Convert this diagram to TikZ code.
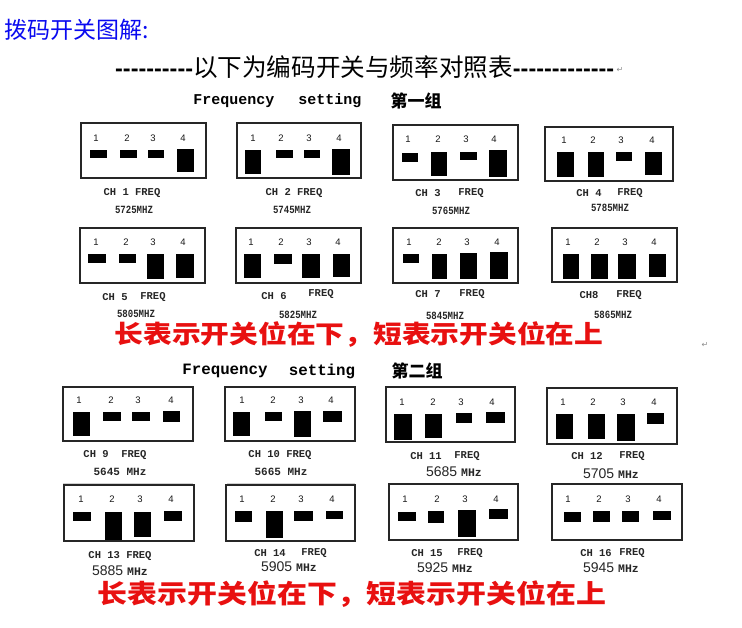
\documentclass[tikz,border=0pt]{standalone}
\usepackage{fontspec}
\setmainfont{Liberation Sans}
\newfontfamily\cjk{Noto Sans CJK SC}
\newfontfamily\cjkw{Noto Sans CJK SC}[FakeStretch=1.15]
\newfontfamily\mono{Liberation Mono}
\newfontfamily\monon{Liberation Mono}[FakeStretch=0.82]
\newfontfamily\symf{DejaVu Sans}
\newcommand\hy{-\kern0pt}
\definecolor{redtxt}{RGB}{232,16,16}
\definecolor{bluetxt}{RGB}{10,10,240}
\tikzset{
  boxline/.style={draw=black!85, line width=1.1pt},
  sw/.style={fill=black},
  num/.style={font=\fontsize{9.5}{10}\selectfont, text=black!90, inner sep=0pt},
  lab/.style={font=\mono\bfseries\fontsize{10.5}{11}\selectfont, text=black!85, inner sep=0pt},
  mhz/.style={font=\monon\bfseries\fontsize{11}{12}\selectfont, text=black!85, inner sep=0pt},
  mhzb/.style={font=\mono\bfseries\fontsize{11}{12}\selectfont, text=black!85, inner sep=0pt},
  mhzc/.style={font=\fontsize{14}{15}\selectfont, text=black!85, inner sep=0pt},
  freq/.style={font=\mono\bfseries\fontsize{15}{16}\selectfont, inner sep=0pt},
  grp/.style={font=\cjk\bfseries\fontsize{17}{18}\selectfont, inner sep=0pt},
  redline/.style={text=redtxt, inner sep=0pt, text height=20pt, text depth=1pt},
  pmark/.style={font=\symf\fontsize{8}{9}\selectfont, text=black!45, inner sep=0pt},
  faint/.style={draw=black!18, line width=0.8pt},
}
\newcommand\nums[5]{%
  \node[num] at (#2,#1) {1};
  \node[num] at (#3,#1) {2};
  \node[num] at (#4,#1) {3};
  \node[num] at (#5,#1) {4};}
\newcommand\mz[1]{{\mono\bfseries\fontsize{11.5}{12}\selectfont #1}}
\begin{document}
\begin{tikzpicture}[x=1pt,y=-1pt]
\useasboundingbox[fill=white] (0,0) rectangle (742,628);

% titles
\node[anchor=west, text=bluetxt, inner sep=0pt, font=\cjk\fontsize{23}{25}\selectfont] (t1) at (4,30) {拨码开关图解:};
\node[anchor=west, inner sep=0pt] (t2) at (115,67) {{\bfseries\fontsize{23.4}{24}\selectfont\hy\hy\hy\hy\hy\hy\hy\hy\hy\hy}{\cjk\fontsize{24.6}{26}\selectfont 以下为编码开关与频率对照表}{\bfseries\fontsize{23.4}{24}\selectfont\hy\hy\hy\hy\hy\hy\hy\hy\hy\hy\hy\hy\hy}};
\node[pmark, anchor=west] (t3) at ([xshift=2pt,yshift=-3pt]t2.east) {↵};

% group 1 heading
\node[freq] (f1a) at (234,101) {Frequency};
\node[freq] (f1b) at (330,101) {setting};
\node[grp] (f1c) at (416,101) {第一组};

% ---- CH1
\draw[boxline] (81,123) rectangle (206,178);
\nums{138}{96}{127}{153}{183}
\fill[sw] (90,150) rectangle (107,158);
\fill[sw] (120,150) rectangle (137,158);
\fill[sw] (148,150) rectangle (164,158);
\fill[sw] (177,149) rectangle (194,172);
\node[lab] (c1) at (132,193) {CH 1 FREQ};
\node[mhz] (m1) at (134,210) {5725MHZ};
% ---- CH2
\draw[boxline] (237,123) rectangle (361,178);
\nums{138}{253}{281}{309}{339}
\fill[sw] (245,150) rectangle (261,174);
\fill[sw] (276,150) rectangle (293,158);
\fill[sw] (304,150) rectangle (320,158);
\fill[sw] (332,149) rectangle (350,175);
\node[lab] (c2) at (294,193) {CH 2 FREQ};
\node[mhz] (m2) at (292,210) {5745MHZ};
% ---- CH3
\draw[boxline] (393,125) rectangle (518,180);
\nums{139}{408}{438}{466}{494}
\fill[sw] (402,153) rectangle (418,162);
\fill[sw] (431,152) rectangle (447,176);
\fill[sw] (460,152) rectangle (477,160);
\fill[sw] (489,150) rectangle (507,177);
\node[lab] (c3) at (428,193) {CH 3};
\node[lab] (q3) at (471,193) {FREQ};
\node[mhz] (m3) at (451,211) {5765MHZ};
% ---- CH4
\draw[boxline] (545,127) rectangle (673,181);
\nums{140}{564}{593}{621}{652}
\fill[sw] (557,152) rectangle (574,177);
\fill[sw] (588,152) rectangle (604,177);
\fill[sw] (616,152) rectangle (632,161);
\fill[sw] (645,152) rectangle (662,175);
\node[lab] (c4) at (589,193) {CH 4};
\node[lab] (q4) at (630,193) {FREQ};
\node[mhz] (m4) at (610,208) {5785MHZ};
% ---- CH5
\draw[boxline] (80,228) rectangle (205,283);
\nums{242}{96}{126}{153}{183}
\fill[sw] (88,254) rectangle (106,263);
\fill[sw] (119,254) rectangle (136,263);
\fill[sw] (147,254) rectangle (164,279);
\fill[sw] (176,254) rectangle (194,278);
\node[lab] (c5) at (115,297) {CH 5};
\node[lab] (q5) at (153,297) {FREQ};
\node[mhz] (m5) at (136,314) {5805MHZ};
% ---- CH6
\draw[boxline] (236,228) rectangle (361,283);
\nums{242}{251}{281}{309}{338}
\fill[sw] (244,254) rectangle (261,278);
\fill[sw] (274,254) rectangle (292,264);
\fill[sw] (302,254) rectangle (320,278);
\fill[sw] (333,254) rectangle (350,277);
\node[lab] (c6) at (274,296) {CH 6};
\node[lab] (q6) at (321,294) {FREQ};
\node[mhz] (m6) at (298,315) {5825MHZ};
% ---- CH7
\draw[boxline] (393,228) rectangle (518,283);
\nums{242}{409}{439}{467}{497}
\fill[sw] (403,254) rectangle (419,263);
\fill[sw] (432,254) rectangle (447,279);
\fill[sw] (460,253) rectangle (477,279);
\fill[sw] (490,252) rectangle (508,279);
\node[lab] (c7) at (428,294) {CH 7};
\node[lab] (q7) at (472,294) {FREQ};
\node[mhz] (m7) at (445,316) {5845MHZ};
% ---- CH8
\draw[boxline] (552,228) rectangle (677,282);
\nums{242}{568}{597}{625}{654}
\fill[sw] (563,254) rectangle (579,279);
\fill[sw] (591,254) rectangle (608,279);
\fill[sw] (618,254) rectangle (636,279);
\fill[sw] (649,254) rectangle (666,277);
\node[lab] (c8) at (589,295) {CH8};
\node[lab] (q8) at (629,295) {FREQ};
\node[mhz] (m8) at (613,315) {5865MHZ};

\node[redline, font=\cjkw\bfseries\fontsize{25}{27}\selectfont] (r1) at (359,334) {长表示开关位在下，短表示开关位在上};
\node[pmark] (t4) at (705,345) {↵};

% group 2 heading
\node[freq, font=\mono\bfseries\fontsize{15.8}{16}\selectfont] (f2a) at (225,371) {Frequency};
\node[freq, font=\mono\bfseries\fontsize{15.8}{16}\selectfont] (f2b) at (322,371) {setting};
\node[grp] (f2c) at (417,371) {第二组};

% ---- CH9
\draw[boxline] (63,387) rectangle (193,441);
\nums{400}{79}{111}{138}{171}
\fill[sw] (73,412) rectangle (90,436);
\fill[sw] (103,412) rectangle (121,421);
\fill[sw] (132,412) rectangle (150,421);
\fill[sw] (163,411) rectangle (180,422);
\node[lab] (c9) at (115,455) {CH 9\ \ FREQ};
\node[mhzb] (m9) at (120,472) {5645 MHz};
% ---- CH10
\draw[boxline] (225,387) rectangle (355,441);
\nums{400}{242}{273}{301}{331}
\fill[sw] (233,412) rectangle (250,436);
\fill[sw] (265,412) rectangle (282,421);
\fill[sw] (294,411) rectangle (311,437);
\fill[sw] (323,411) rectangle (342,422);
\node[lab] (c10) at (280,455) {CH 10 FREQ};
\node[mhzb] (m10) at (281,472) {5665 MHz};
% ---- CH11
\draw[boxline] (386,387) rectangle (515,442);
\nums{402}{402}{433}{461}{492}
\fill[sw] (394,414) rectangle (412,440);
\fill[sw] (425,414) rectangle (442,438);
\fill[sw] (456,413) rectangle (472,423);
\fill[sw] (486,412) rectangle (505,423);
\node[lab] (c11) at (426,456) {CH 11};
\node[lab] (q11) at (467,456) {FREQ};
\node[mhzc] (m11) at (454,472) {5685 \mz{MHz}};
% ---- CH12
\draw[boxline] (547,388) rectangle (677,444);
\nums{402}{563}{593}{623}{654}
\fill[sw] (556,414) rectangle (573,439);
\fill[sw] (588,414) rectangle (605,439);
\fill[sw] (617,414) rectangle (635,441);
\fill[sw] (647,413) rectangle (664,424);
\node[lab] (c12) at (587,456) {CH 12};
\node[lab] (q12) at (632,456) {FREQ};
\node[mhzc] (m12) at (611,474) {5705 \mz{MHz}};

\draw[faint] (63,483) -- (193,483);
\draw[faint] (227,483) -- (355,483);
\draw[faint] (388,483) -- (518,483);
\draw[faint] (553,483) -- (682,483);

% ---- CH13
\draw[boxline] (64,485) rectangle (194,541);
\nums{499}{81}{112}{140}{171}
\fill[sw] (73,512) rectangle (91,521);
\fill[sw] (105,512) rectangle (122,540);
\fill[sw] (134,512) rectangle (151,537);
\fill[sw] (164,511) rectangle (182,521);
\node[lab] (c13) at (120,556) {CH 13 FREQ};
\node[mhzc] (m13) at (120,571) {5885 \mz{MHz}};
% ---- CH14
\draw[boxline] (226,485) rectangle (355,541);
\nums{499}{242}{273}{301}{332}
\fill[sw] (235,511) rectangle (252,522);
\fill[sw] (266,511) rectangle (283,538);
\fill[sw] (294,511) rectangle (313,521);
\fill[sw] (326,511) rectangle (343,519);
\node[lab] (c14) at (270,553) {CH 14};
\node[lab] (q14) at (314,553) {FREQ};
\node[mhzc] (m14) at (289,567) {5905 \mz{MHz}};
% ---- CH15
\draw[boxline] (389,484) rectangle (518,540);
\nums{499}{405}{437}{465}{496}
\fill[sw] (398,512) rectangle (416,521);
\fill[sw] (428,511) rectangle (444,523);
\fill[sw] (458,510) rectangle (476,537);
\fill[sw] (489,509) rectangle (508,519);
\node[lab] (c15) at (427,553) {CH 15};
\node[lab] (q15) at (470,553) {FREQ};
\node[mhzc] (m15) at (445,568) {5925 \mz{MHz}};
% ---- CH16
\draw[boxline] (552,484) rectangle (682,540);
\nums{499}{568}{599}{628}{659}
\fill[sw] (564,512) rectangle (581,522);
\fill[sw] (593,511) rectangle (610,522);
\fill[sw] (622,511) rectangle (639,522);
\fill[sw] (653,511) rectangle (671,520);
\node[lab] (c16) at (596,553) {CH 16};
\node[lab] (q16) at (632,553) {FREQ};
\node[mhzc] (m16) at (611,568) {5945 \mz{MHz}};

\node[redline, font=\cjkw\bfseries\fontsize{26}{28}\selectfont] (r2) at (352,594) {长表示开关位在下，短表示开关位在上};
\end{tikzpicture}
\end{document}
